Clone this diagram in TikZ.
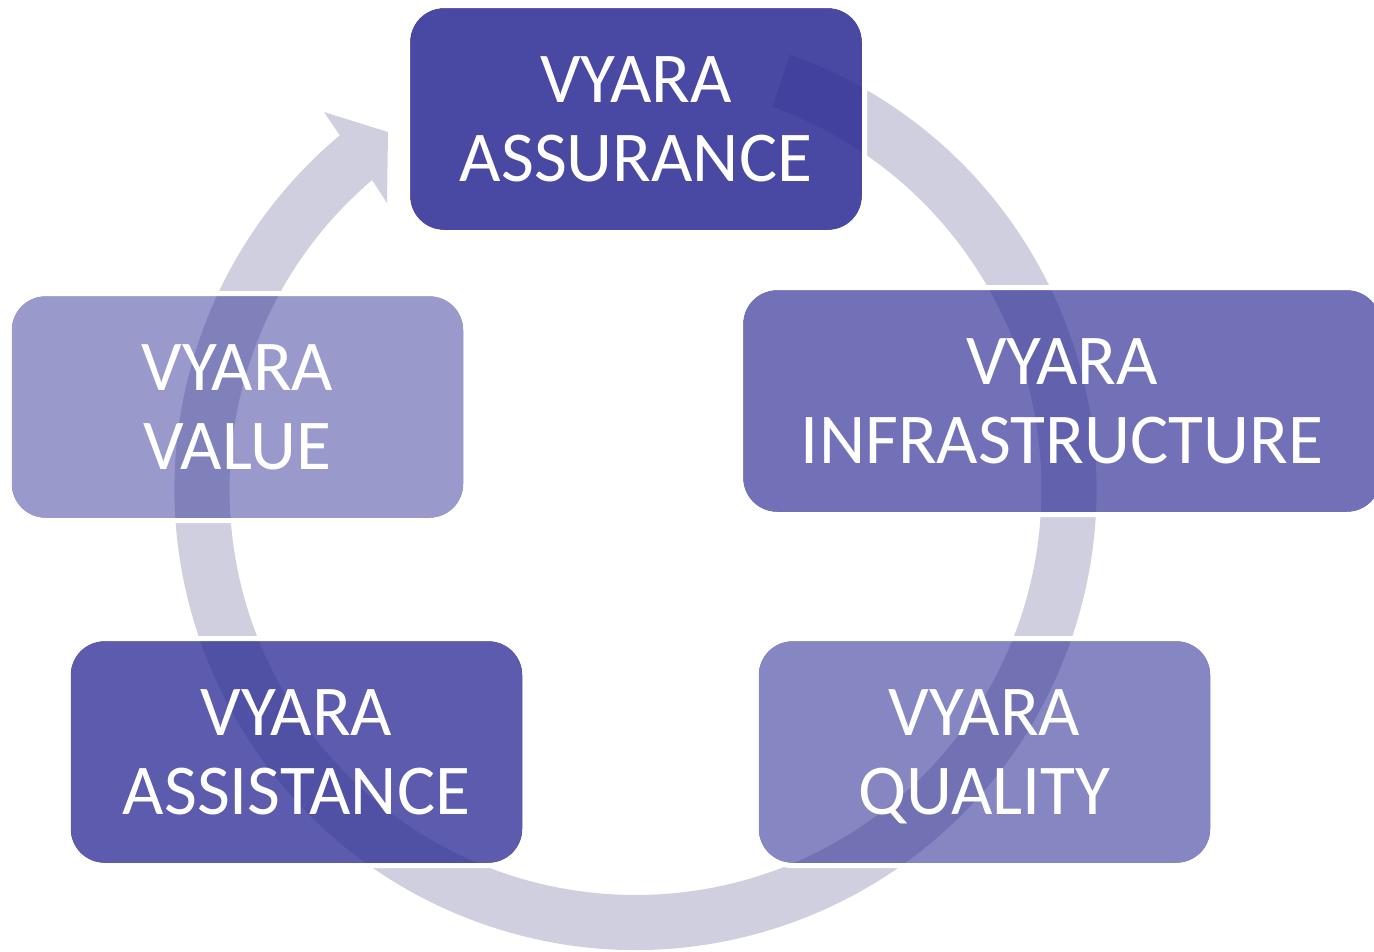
\documentclass[tikz,border=0pt]{standalone}
\usepackage{fontspec}
\setmainfont{Carlito}
\usepackage{xcolor}
\usetikzlibrary{calc}
\definecolor{ringgray}{RGB}{207,207,224}
\definecolor{vyarablue}{RGB}{43,42,148}
\tikzset{
  vyarabox/.style={rectangle, rounded corners=34pt, fill=vyarablue, text=white,
    text opacity=1, align=center, minimum width=452pt, minimum height=222pt,
    inner sep=0pt, outer sep=0pt, text depth=0pt,
    font=\fontsize{71.5}{79}\selectfont},
  gapframe/.style={white, even odd rule}
}

\begin{document}
\begin{tikzpicture}[x=1pt,y=-1pt]
      \useasboundingbox (0,0) rectangle (1374,951);
      \clip (0,0) rectangle (1374,951);
      \coordinate (c) at (635.5,489);
      \coordinate (tipa) at (324,112);
      \coordinate (tipb) at (388,132);
      \coordinate (tipc) at (387,203);
      \fill[ringgray] ($(c)+(-70.4:461)$) arc[start angle=-70.4, end angle=230.1, radius=461]
        -- (tipa) -- (tipb) -- (tipc) -- ($(c)+(229.55:406)$)
        arc[start angle=229.55, end angle=-70.3, radius=406] -- cycle;
      \node[vyarabox, fill opacity=0.86] (assur) at (636,119) {VYARA\\ASSURANCE};
      \node[vyarabox, fill opacity=0.665, minimum width=638pt] (infra) at (1062,401) {VYARA\\INFRASTRUCTURE};
      \node[vyarabox, fill opacity=0.57] (qual) at (984.5,752) {VYARA\\QUALITY};
      \node[vyarabox, fill opacity=0.77] (assist) at (296.5,752) {VYARA\\ASSISTANCE};
      \node[vyarabox, fill opacity=0.48] (val) at (237.5,407) {VYARA\\VALUE};
      \foreach \n in {assur,infra,qual,assist,val}
        \fill[gapframe, rounded corners=39pt] ($(\n.south west)+(-5,5)$) rectangle ($(\n.north east)+(5,-5)$)
          [rounded corners=34pt] (\n.south west) rectangle (\n.north east);
\end{tikzpicture}
\end{document}
